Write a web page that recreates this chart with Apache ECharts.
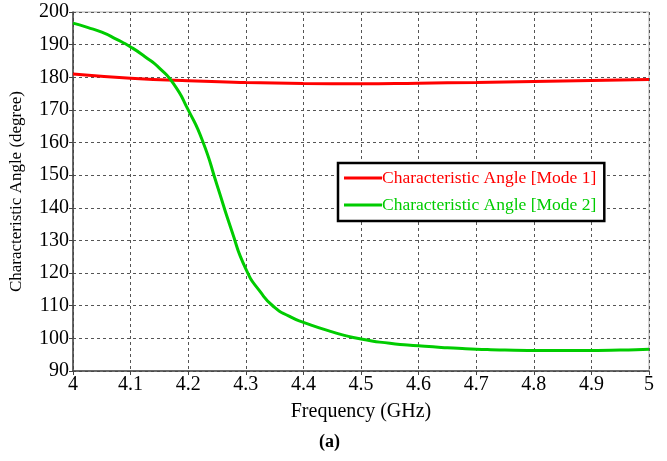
<!DOCTYPE html>
<html lang="en">
<head>
  <meta charset="UTF-8">
  <title>Characteristic Angle</title>
  <script src="https://cdn.jsdelivr.net/npm/echarts@6/dist/echarts.min.js"></script>
  <style>
    body { margin: 0; background: #fff; }
    #chart { width: 667px; height: 461px; }
  </style>
</head>
<body>
  <div id="chart"></div>
  <script>
    // values
    const freqMode1 = [4.0, 4.1, 4.2, 4.3, 4.4, 4.5, 4.6, 4.7, 4.8, 4.9, 5.0];
    const angleMode1 = [181, 179.7, 178.9, 178.4, 178.1, 178, 178.2, 178.4, 178.7, 179, 179.3];

    const freqMode2 = [4.0, 4.025, 4.05, 4.075, 4.1, 4.125, 4.15, 4.175, 4.2, 4.225, 4.25,
                       4.275, 4.3, 4.325, 4.35, 4.375, 4.4, 4.45, 4.5, 4.55, 4.6, 4.65, 4.7,
                       4.75, 4.8, 4.85, 4.9, 4.95, 5.0];
    const angleMode2 = [196.6, 195.3, 193.8, 191.7, 189.3, 186.3, 182.8, 177.9, 170, 160.5, 147,
                        133.3, 121.3, 114.3, 109.5, 106.8, 104.9, 102.0, 99.8, 98.5, 97.7, 97.1, 96.7,
                        96.4, 96.3, 96.3, 96.3, 96.4, 96.7];

    const names = ['Characteristic Angle [Mode 1]', 'Characteristic Angle [Mode 2]'];

    const font = '"Liberation Serif", "Times New Roman", serif';
    const chart = echarts.init(document.getElementById('chart'));

    const option = {
      backgroundColor: '#fff',
      animation: false,
      title: {
        text: '(a)',
        left: 319,
        top: 433,
        padding: 0,
        textStyle: { fontFamily: font, fontSize: 18, fontWeight: 'bold', color: '#000' }
      },
      grid: {
        left: 72, right: 18, top: 12, bottom: 90,
        show: true, borderColor: '#aaa', borderWidth: 1
      },
      legend: {
        orient: 'vertical',
        left: 338, top: 163,
        padding: [6, 8, 7, 6],
        itemGap: 9,
        itemWidth: 38, itemHeight: 3,
        icon: 'rect',
        borderColor: '#000', borderWidth: 2.5,
        backgroundColor: '#fff',
        textStyle: { fontFamily: font, fontSize: 17.5, padding: [0, 0, 0, -5] },
        data: [
          { name: names[0], textStyle: { color: '#ff0000' } },
          { name: names[1], textStyle: { color: '#00cc00' } }
        ]
      },
      xAxis: {
        type: 'value',
        min: 4, max: 5, interval: 0.1,
        name: 'Frequency (GHz)',
        nameLocation: 'middle',
        nameGap: 31,
        nameTextStyle: { fontFamily: font, fontSize: 20, color: '#000' },
        axisLine: { lineStyle: { color: '#444', width: 1.5 } },
        axisTick: { show: true, length: 4, lineStyle: { color: '#444' } },
        axisLabel: {
          fontFamily: font, fontSize: 20, color: '#000', margin: 4,
          formatter: v => String(parseFloat(v.toFixed(1)))
        },
        splitLine: { show: true, lineStyle: { color: '#555', type: [3, 3], width: 1 } }
      },
      yAxis: {
        type: 'value',
        min: 90, max: 200, interval: 10,
        name: 'Characteristic Angle (degree)',
        nameLocation: 'middle',
        nameGap: 48,
        nameTextStyle: { fontFamily: font, fontSize: 17, color: '#000' },
        axisLine: { show: true, lineStyle: { color: '#444', width: 1.5 } },
        axisTick: { show: true, length: 4, lineStyle: { color: '#444' } },
        axisLabel: { fontFamily: font, fontSize: 20, color: '#000', margin: 4 },
        splitLine: { show: true, lineStyle: { color: '#555', type: [3, 3], width: 1 } }
      },
      series: [
        {
          name: names[0],
          type: 'line',
          data: freqMode1.map((f, i) => [f, angleMode1[i]]),
          smooth: true,
          showSymbol: false,
          lineStyle: { color: '#ff0000', width: 3 },
          itemStyle: { color: '#ff0000' },
          z: 3
        },
        {
          name: names[1],
          type: 'line',
          data: freqMode2.map((f, i) => [f, angleMode2[i]]),
          smooth: 0.6,
          showSymbol: false,
          lineStyle: { color: '#00cc00', width: 3 },
          itemStyle: { color: '#00cc00' },
          z: 4
        }
      ]
    };

    chart.setOption(option);
  </script>
</body>
</html>
